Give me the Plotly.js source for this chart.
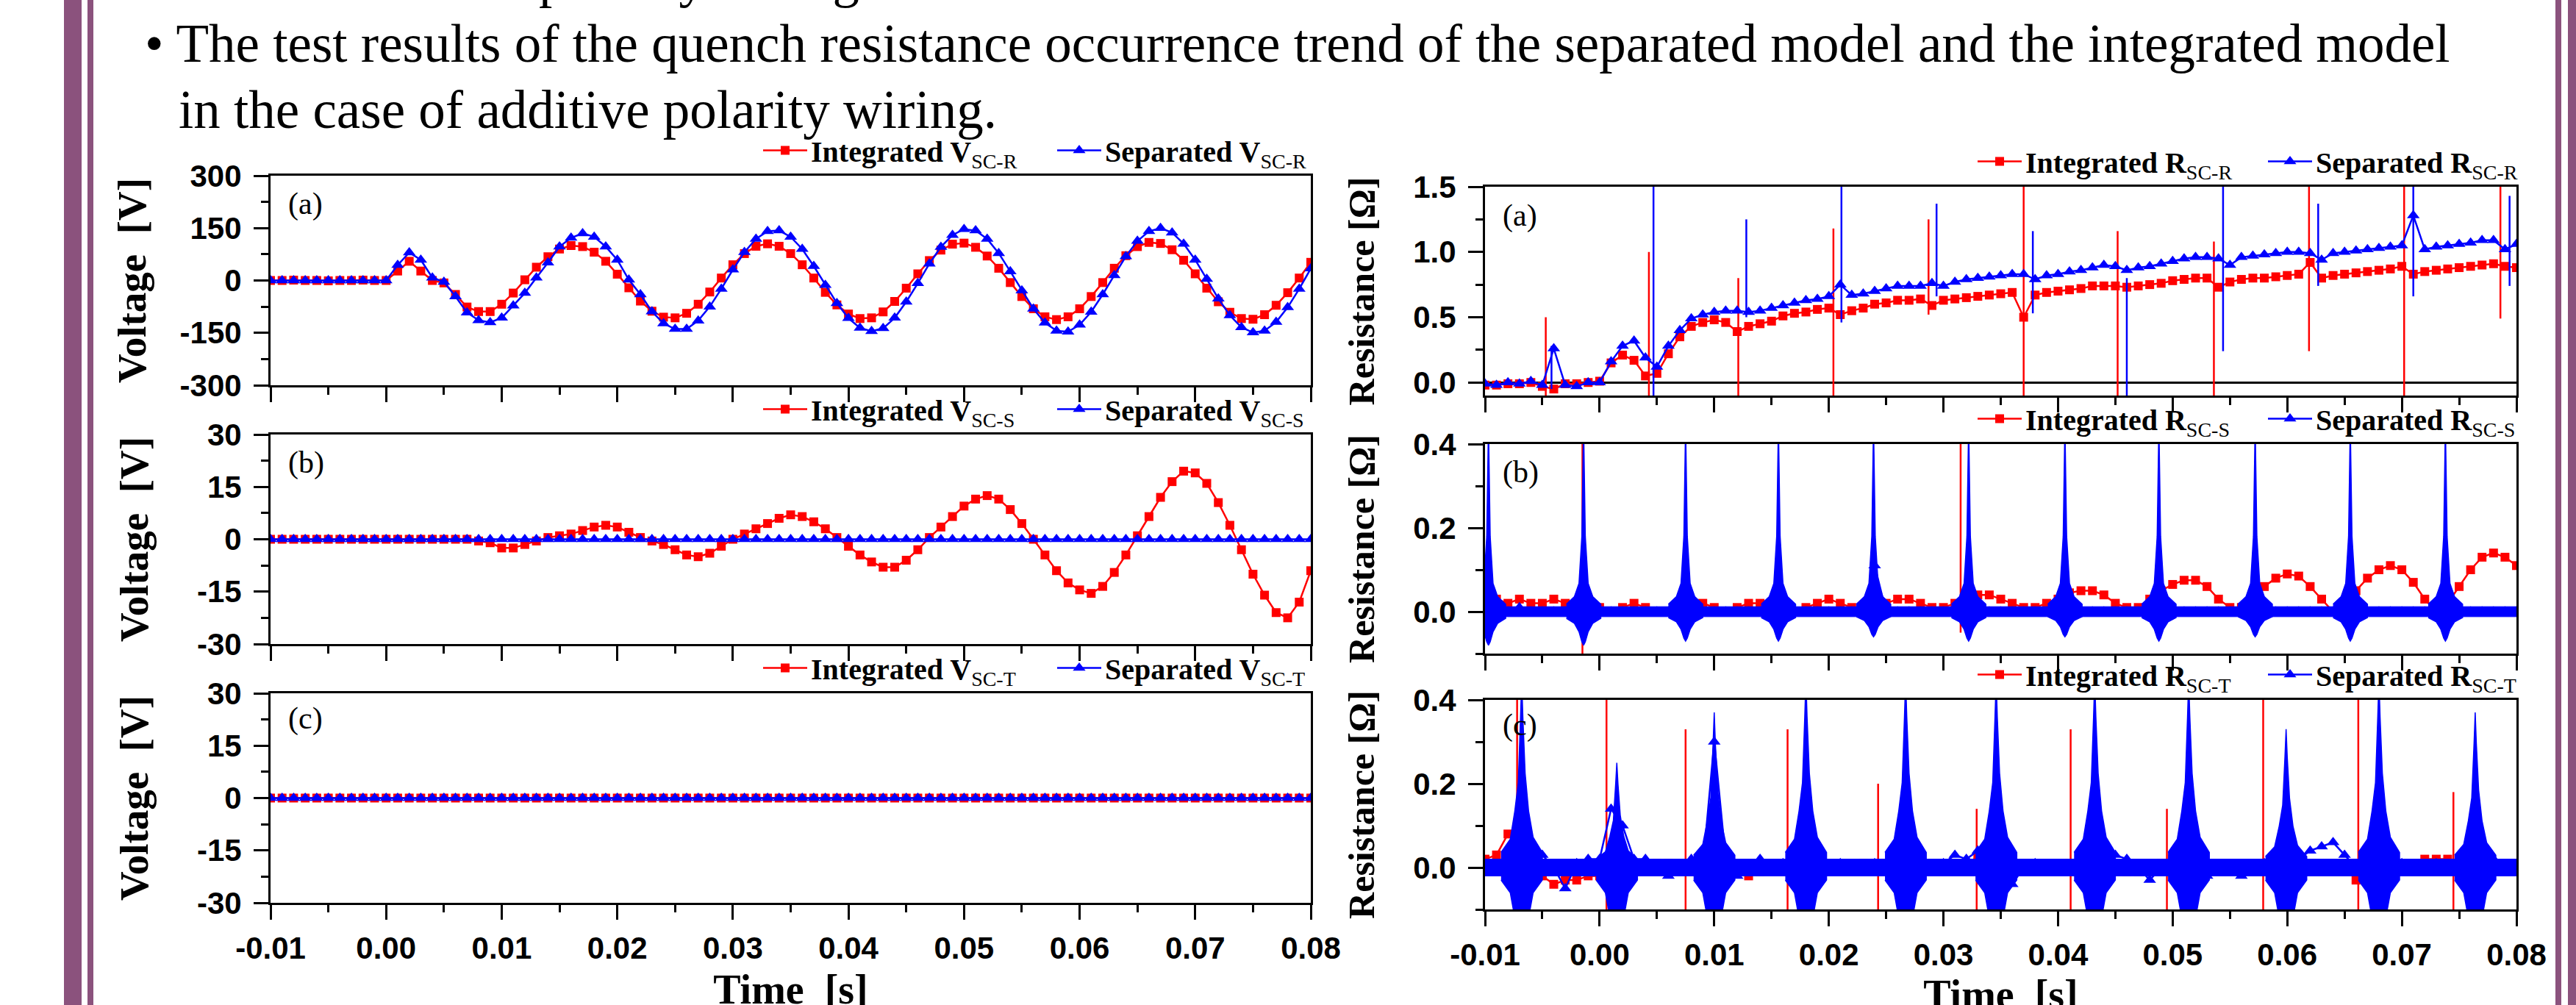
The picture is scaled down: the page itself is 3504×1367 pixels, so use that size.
<!DOCTYPE html>
<html><head><meta charset="utf-8">
<script src="https://cdn.plot.ly/plotly-3.0.1.min.js"></script>
<style>html,body{margin:0;padding:0;background:#fff;width:3504px;height:1367px;overflow:hidden;}#chart{width:3504px;height:1400px;}</style>
</head><body><div id="chart"></div>
<script>
// ---------- time grid (ms) for the sampled markers ----------
const tMs = [-10,-9,-8,-7,-6,-5,-4,-3,-2,-1,0,1,2,3,4,5,6,7,8,9,10,11,12,13,14,15,16,17,18,19,20,
21,22,23,24,25,26,27,28,29,30,31,32,33,34,35,36,37,38,39,40,41,42,43,44,45,46,47,48,49,50,
51,52,53,54,55,56,57,58,59,60,61,62,63,64,65,66,67,68,69,70,71,72,73,74,75,76,77,78,79,80];

// ---------- left column: voltages ----------
const vR_int = [0,0,1,0,0,-1,0,0,1,0, 0,
27,55,27,0,-7,-40,-76,-89,-89,-68,-36,2,
38,68,90,100,97,81,55,18,-21,-59,-88,-105,
-107,-94,-68,-33,7,45,77,98,105,98,77,45,
7,-34,-70,-96,-109,-107,-90,-60,-22,19,57,87,
104,107,95,70,35,-6,-46,-81,-104,-112,-104,-81,
-46,-6,35,71,97,109,106,88,58,19,-22,-61,
-91,-109,-111,-98,-71,-35,7,52];
const vR_sep = [0,0,0,0,0,0,0,0,0,0, 0,
44,80,59,8,-4,-46,-92,-114,-120,-107,-72,-36,
8,51,97,122,135,125,97,59,2,-40,-89,-123,
-139,-139,-115,-75,-24,31,81,119,141,143,125,90,
41,-13,-65,-108,-136,-145,-137,-107,-61,-8,48,96,
130,147,143,119,78,26,-29,-81,-121,-144,-147,-127,
-90,-40,15,69,113,141,150,137,105,59,4,-52,
-100,-134,-149,-144,-119,-77,-24,34];
const vS_int = [0,0,0,0,0,0,0,0,0,0,
0,0,0,0,0,0,0,0,-0.5,
-1,-2.5,-2.5,-1.5,-0.5,0.5,1,1.5,2.5,3.5,4,3.5,
2,0.5,-0.5,-1.5,-3,-4.5,-5,-4,-2,0,1.5,3,
4.5,6,7,6.5,5,3,0.5,-2,-4.5,-6.5,-8,-8,
-6,-3,0.5,3.5,6.5,9.5,11.5,12.5,11.5,8.5,4.5,0,
-4.5,-9,-12.5,-14.5,-15.5,-13.5,-9.5,-4.5,1,6.5,12,16.5,
19.5,19,16,10.5,4,-3,-10,-16,-21,-22.5,-18,-9];
const vS_sep = [0,0,0,0,0,0,0,0,0,0,0,0,0,0,0,0,0,0,0,0,0,0,0,0,0,0,0,0,0,0,0,0,0,0,0,0,0,0,0,0,0,0,0,0,0,0,
0,0,0,0,0,0,0,0,0,0,0,0,0,0,0,0,0,0,0,0,0,0,0,0,0,0,0,0,0,0,0,0,0,0,0,0,0,0,0,0,0,0,0,0,0];
const vT_int = [0,0,0,0,0,0,0,0,0,0,0,0,0,0,0,0,0,0,0,0,0,0,0,0,0,0,0,0,0,0,0,0,0,0,0,0,0,0,0,0,0,0,0,0,0,0,
0,0,0,0,0,0,0,0,0,0,0,0,0,0,0,0,0,0,0,0,0,0,0,0,0,0,0,0,0,0,0,0,0,0,0,0,0,0,0,0,0,0,0,0,0];
const vT_sep = [0,0,0,0,0,0,0,0,0,0,0,0,0,0,0,0,0,0,0,0,0,0,0,0,0,0,0,0,0,0,0,0,0,0,0,0,0,0,0,0,0,0,0,0,0,0,
0,0,0,0,0,0,0,0,0,0,0,0,0,0,0,0,0,0,0,0,0,0,0,0,0,0,0,0,0,0,0,0,0,0,0,0,0,0,0,0,0,0,0,0,0];

// ---------- right column: resistances ----------
const rR_int = [-0.02,-0.02,-0.01,-0.01,0.0,-0.03,-0.05,-0.01,-0.01,0.0, 0.01,
0.15,0.21,0.17,0.05,0.07,0.22,0.35,0.43,0.46,0.48,0.46,0.39,0.43,
0.45,0.47,0.51,0.53,0.54,0.56,0.57,0.52,0.55,0.57,0.6,0.61,0.63,
0.63,0.64,0.59,0.63,0.64,0.65,0.66,0.67,0.68,0.69,0.5,0.67,0.69,
0.7,0.71,0.72,0.74,0.74,0.74,0.73,0.74,0.75,0.76,0.78,0.79,0.8,
0.8,0.73,0.77,0.79,0.8,0.8,0.81,0.82,0.83,0.92,0.8,0.82,0.83,
0.84,0.85,0.86,0.87,0.89,0.83,0.85,0.86,0.87,0.88,0.89,0.9,0.91,
0.89,0.88];
const rR_sep = [-0.01,-0.02,0.0,-0.01,0.01,-0.02,0.26,-0.02,-0.03,0.0, 0.0,
0.16,0.28,0.32,0.19,0.12,0.28,0.4,0.49,0.52,0.54,0.55,0.55,0.54,
0.55,0.57,0.59,0.61,0.63,0.64,0.66,0.75,0.67,0.68,0.7,0.72,0.74,
0.74,0.74,0.76,0.74,0.77,0.79,0.8,0.81,0.82,0.83,0.83,0.79,0.82,
0.83,0.85,0.86,0.88,0.9,0.89,0.86,0.88,0.89,0.91,0.93,0.95,0.96,
0.96,0.95,0.9,0.96,0.97,0.98,0.99,1.0,1.0,0.99,0.94,0.99,1.0,
1.01,1.02,1.03,1.04,1.05,1.28,1.02,1.04,1.05,1.06,1.07,1.09,1.09,
1.02,1.06];
// spikes (time s, top, bottom)
const spkR_int_t  = [-0.0047,0.0043,0.0121,0.0204,0.0287,0.0370,0.0452,0.0536,0.0619,0.0702,0.0786];
const spkR_int_hi = [0.5,1.0,0.8,1.18,1.25,1.6,1.16,1.08,1.6,1.6,1.6];
const spkR_int_lo = [-0.12,-0.12,-0.12,-0.12,0.52,-0.12,-0.12,-0.12,0.24,-0.12,0.49];
const spkR_sep_t  = [-0.0042,0.0047,0.0128,0.0211,0.0294,0.0378,0.0460,0.0544,0.0627,0.0710,0.0794];
const spkR_sep_hi = [0.28,1.6,1.25,1.6,1.37,1.16,0.8,1.6,1.37,1.6,1.43];
const spkR_sep_lo = [-0.05,-0.12,0.5,0.46,0.66,0.53,-0.12,0.24,0.74,0.66,0.74];

const rS_int = [0.02,0.03,0.02,0.03,0.02,0.02,0.03,0.02,0.02,0.03,
0.01,0.00,0.01,0.02,0.01,0.00,0.00,0.01,0.02,0.02,0.01,
0.00,0.01,0.02,0.02,0.02,0.01,0.00,0.01,0.02,0.03,
0.02,0.01,0.00,0.01,0.02,0.03,0.03,0.02,0.01,0.01,
0.02,0.03,0.04,0.04,0.03,0.02,0.01,0.01,0.02,0.03,
0.045,0.05,0.05,0.04,0.02,0.01,0.01,0.03,0.05,0.065,
0.075,0.075,0.06,0.03,0.01,0.01,0.03,0.06,0.08,0.09,
0.085,0.06,0.03,0.00,0.02,0.05,0.08,0.10,0.11,0.10,
0.07,0.03,0.00,0.02,0.06,0.10,0.13,0.14,0.13,0.11];
const rS_sep = [0.07,0,0,0.01,0,0,0,0,0,0,
0,0,0,0,0,0,0,0,0,0,0,
0,0,0,0,0,0,0,0,0,0,
0,0,0,0.11,0,0,0,0,0,0,
0,0,0,0,0,0,0,0,0,0,0,0,0,0,0,0,0,0,0,0,0,0,0,0,0,0,0,0,0,0,0,0,0,0,0,0,0,0,0,0,0,0,0,0,0,0,0,0,0,0];
const spkS_int_t  = [-0.0015,0.0315];
const spkS_int_hi = [0.45,0.45];
const spkS_int_lo = [-0.12,-0.05];
const burstS_t  = [-0.0097,-0.0014,0.0075,0.0156,0.0239,0.0322,0.0406,0.0488,0.0572,0.0655,0.0738];
const burstS_hi = [0.45,0.45,0.45,0.45,0.45,0.45,0.45,0.45,0.45,0.45,0.45];
const burstS_lo = [-0.08,-0.08,-0.07,-0.07,-0.06,-0.07,-0.06,-0.07,-0.06,-0.07,-0.07];
const bandS = [-0.012,0.012];

const rT_int = [0.02,0.03,0.08,0.08,0.02,-0.02,-0.04,-0.03,-0.03,-0.02,
-0.02,-0.02,0.0,0.0,0.0,0.01,0.01,0.0,0.01,0.0,0.0,
-0.01,-0.01,-0.02,-0.01,0.0,0.0,0.0,0.0,0.0,0.0,
0.0,0.0,0.01,0.01,0.01,0.0,0.02,0.0,0.0,0.0,
0.0,0.0,0.03,0.02,0.01,0.0,0.0,0.0,0.0,0.0,
0.01,0.01,0.0,0.0,0.0,-0.01,-0.01,-0.01,0.01,0.02,
0.01,0.0,0.0,0.0,0.0,-0.01,0.0,0.0,0.0,0.0,
0.0,0.0,0.0,0.0,0.01,-0.03,-0.03,0.0,0.0,0.0,
0.0,0.02,0.02,0.02,0.01,0.0,0.0,0.0,0.0,0.0];
const rT_sep = [0.0,0.0,0.02,0.0,0.06,0.03,0.0,-0.05,0.01,0.02,
0.02,0.14,0.1,0.02,0.02,0.0,-0.02,0.0,0.02,0.0,0.3,
0.02,-0.02,0.0,0.02,0.0,0.01,0.02,0.0,0.0,0.0,
0.01,0.0,0.0,0.01,0.0,-0.02,-0.05,0.0,0.0,0.01,
0.03,0.02,0.04,0.0,-0.03,-0.04,0.0,0.01,0.0,0.0,
0.0,0.02,0.0,0.01,0.03,0.02,0.0,-0.03,0.0,0.02,
0.0,0.0,-0.02,0.0,0.0,-0.02,0.0,0.01,0.0,0.0,
0.02,0.04,0.05,0.06,0.03,0.0,0.0,-0.01,0.0,0.01,
0.0,0.0,0.01,0.0,0.01,0.0,-0.01,0.02,0.0,0.0];
const spkT_int_t  = [-0.0072,0.0006,0.0075,0.0164,0.0243,0.0329,0.0411,0.0495,0.0579,0.0662,0.0745];
const spkT_int_hi = [0.45,0.45,0.33,0.33,0.2,0.14,0.33,0.14,0.45,0.45,0.18];
const spkT_int_lo = [-0.12,-0.12,-0.12,-0.12,-0.12,-0.12,-0.12,-0.12,-0.12,-0.12,-0.12];
const burstT_t  = [-0.0068,0.0015,0.0100,0.0180,0.0267,0.0346,0.0432,0.0514,0.0599,0.0680,0.0764];
const burstT_hi = [0.45,0.25,0.37,0.45,0.45,0.45,0.45,0.45,0.33,0.45,0.37];
const burstT_lo = [-0.12,-0.12,-0.12,-0.12,-0.12,-0.12,-0.12,-0.12,-0.12,-0.12,-0.12];
const bandT = [-0.02,0.02];

// burst envelope profiles (offset ms, fraction of burst extreme)
const profB_upOff = [-1.5,-0.8,-0.4,-0.15,0,0.15,0.4,0.8,1.5];
const profB_upFr  = [0.04,0.08,0.15,0.4,1,0.4,0.15,0.08,0.04];
const profB_loOff = [1.5,0.8,0.4,0.15,0,-0.15,-0.4,-0.8,-1.5];
const profB_loFr  = [0.2,0.35,0.6,0.9,1,0.9,0.6,0.35,0.2];
const profC_upOff = [-1.8,-1.0,-0.6,-0.3,-0.1,0,0.1,0.3,0.6,1.0,1.8];
const profC_upFr  = [0.08,0.15,0.3,0.45,0.8,1,0.8,0.5,0.3,0.16,0.08];
const profC_loOff = [1.8,1.0,0.6,0.3,0,-0.3,-0.6,-1.0,-1.8];
const profC_loFr  = [0.25,0.5,1,1,1,1,1,0.5,0.25];

// ---------- tick labels ----------
const xTickVals = [-0.01,0,0.01,0.02,0.03,0.04,0.05,0.06,0.07,0.08];
const xTickText = ["-0.01","0.00","0.01","0.02","0.03","0.04","0.05","0.06","0.07","0.08"];
const xMinor = [-0.005,0.005,0.015,0.025,0.035,0.045,0.055,0.065,0.075];
const yA_vals = [-300,-150,0,150,300], yA_text = ["-300","-150","0","150","300"], yA_minor=[-225,-75,75,225];
const yB_vals = [-30,-15,0,15,30], yB_text = ["-30","-15","0","15","30"], yB_minor=[-22.5,-7.5,7.5,22.5];
const rA_vals = [0,0.5,1.0,1.5], rA_text = ["0.0","0.5","1.0","1.5"], rA_minor=[0.25,0.75,1.25];
const rB_vals = [0,0.2,0.4], rB_text = ["0.0","0.2","0.4"], rB_minor=[-0.1,0.1,0.3];

// ---------- geometry helpers ----------
// figure is drawn slightly taller than the window so the bottom axis titles can sit at the cut edge
const W = 3504, H = 1400;
const px = v => v / W, py = v => 1 - v / H;
const t = tMs.map(v => v / 1000);
const RED = '#ff0000', BLUE = '#0000ff';

function mk(xa, ya, y, color, sym, name, leg) {
  return {x: t, y: y, xaxis: xa, yaxis: ya, type: 'scatter', mode: 'lines+markers', name: name,
    legend: leg, legendrank: name.startsWith('Integrated') ? 1 : 2, line: {color: color, width: 2.5},
    marker: {symbol: sym, color: color, size: sym === 'square' ? 12 : 15}};
}
function spikes(xa, ya, ts, hi, lo, color) {
  const xs = [], ys = [];
  ts.forEach((v, i) => { xs.push(v, v, null); ys.push(hi[i], lo[i], null); });
  return {x: xs, y: ys, xaxis: xa, yaxis: ya, type: 'scatter', mode: 'lines', showlegend: false,
    line: {color: color, width: 2.5}, hoverinfo: 'skip'};
}
function bursts(xa, ya, ts, hi, lo, upOff, upFr, loOff, loFr, color) {
  const xs = [], ys = [];
  ts.forEach((c, i) => {
    upOff.forEach((o, k) => { xs.push(c + o / 1000); ys.push(hi[i] * upFr[k]); });
    loOff.forEach((o, k) => { xs.push(c + o / 1000); ys.push(lo[i] * loFr[k]); });
    xs.push(null); ys.push(null);
  });
  return {x: xs, y: ys, xaxis: xa, yaxis: ya, type: 'scatter', mode: 'lines', fill: 'toself',
    fillcolor: color, showlegend: false, line: {color: color, width: 1.5}, hoverinfo: 'skip'};
}
function band(xa, ya, b, color) {
  return {x: [-0.01, 0.08, 0.08, -0.01], y: [b[1], b[1], b[0], b[0]], xaxis: xa, yaxis: ya,
    type: 'scatter', mode: 'lines', fill: 'toself', fillcolor: color, showlegend: false,
    line: {color: color, width: 1}, hoverinfo: 'skip'};
}
const sub = s => '<sub><span style="font-weight:normal">' + s + '</span></sub>';

const traces = [
  mk('x', 'y', vR_int, RED, 'square', 'Integrated V' + sub('SC-R'), 'legend'),
  mk('x', 'y', vR_sep, BLUE, 'triangle-up', 'Separated V' + sub('SC-R'), 'legend'),
  mk('x2', 'y2', vS_int, RED, 'square', 'Integrated V' + sub('SC-S'), 'legend2'),
  mk('x2', 'y2', vS_sep, BLUE, 'triangle-up', 'Separated V' + sub('SC-S'), 'legend2'),
  mk('x3', 'y3', vT_int, RED, 'square', 'Integrated V' + sub('SC-T'), 'legend3'),
  mk('x3', 'y3', vT_sep, BLUE, 'triangle-up', 'Separated V' + sub('SC-T'), 'legend3'),

  mk('x4', 'y4', rR_int, RED, 'square', 'Integrated R' + sub('SC-R'), 'legend4'),
  spikes('x4', 'y4', spkR_int_t, spkR_int_hi, spkR_int_lo, RED),
  mk('x4', 'y4', rR_sep, BLUE, 'triangle-up', 'Separated R' + sub('SC-R'), 'legend4'),
  spikes('x4', 'y4', spkR_sep_t, spkR_sep_hi, spkR_sep_lo, BLUE),

  mk('x5', 'y5', rS_int, RED, 'square', 'Integrated R' + sub('SC-S'), 'legend5'),
  spikes('x5', 'y5', spkS_int_t, spkS_int_hi, spkS_int_lo, RED),
  band('x5', 'y5', bandS, BLUE),
  bursts('x5', 'y5', burstS_t, burstS_hi, burstS_lo, profB_upOff, profB_upFr, profB_loOff, profB_loFr, BLUE),
  mk('x5', 'y5', rS_sep, BLUE, 'triangle-up', 'Separated R' + sub('SC-S'), 'legend5'),

  mk('x6', 'y6', rT_int, RED, 'square', 'Integrated R' + sub('SC-T'), 'legend6'),
  spikes('x6', 'y6', spkT_int_t, spkT_int_hi, spkT_int_lo, RED),
  band('x6', 'y6', bandT, BLUE),
  bursts('x6', 'y6', burstT_t, burstT_hi, burstT_lo, profC_upOff, profC_upFr, profC_loOff, profC_loFr, BLUE),
  mk('x6', 'y6', rT_sep, BLUE, 'triangle-up', 'Separated R' + sub('SC-T'), 'legend6')
];

const tickFont = {family: 'Liberation Sans', size: 42, weight: 'bold', color: '#000'};
const axBase = {showline: true, linewidth: 3, linecolor: '#000', mirror: true, showgrid: false, zeroline: false,
  ticks: 'outside', ticklen: 20, tickwidth: 3, tickcolor: '#000', tickfont: tickFont, fixedrange: true};
function xax(dom, anchor, labels, title, tStandoff) {
  const a = Object.assign({}, axBase, {domain: dom, anchor: anchor, range: [-0.01, 0.08],
    tickmode: 'array', tickvals: xTickVals, ticktext: xTickText, showticklabels: labels, ticklabelstandoff: 3,
    minor: {tickmode: 'array', tickvals: xMinor, ticks: 'outside', ticklen: 10, tickwidth: 3, tickcolor: '#000'}});
  if (title) a.title = {text: title, font: {family: 'Liberation Serif', size: 56, weight: 'bold', color: '#000'}, standoff: tStandoff};
  return a;
}
function yax(dom, anchor, range, vals, text, minor, title, tsize, standoff, extra) {
  return Object.assign({}, axBase, {domain: dom, anchor: anchor, range: range, tickmode: 'array',
    tickvals: vals, ticktext: text, ticklabelstandoff: 8,
    minor: {tickmode: 'array', tickvals: minor, ticks: 'outside', ticklen: 10, tickwidth: 3, tickcolor: '#000'},
    title: {text: title, font: {family: 'Liberation Serif', size: tsize, weight: 'bold', color: '#000'}, standoff: standoff}}, extra || {});
}
const LX = [px(368), px(1783)], RX = [px(2020), px(3423)];
const legFont = {family: 'Liberation Serif', size: 40, weight: 'bold', color: '#000'};
function leg(xl, ytop, ew) {
  return {x: px(xl), xanchor: 'left', y: py(ytop), yanchor: 'bottom', orientation: 'h',
    bgcolor: 'rgba(0,0,0,0)', borderwidth: 0, font: legFont, itemwidth: 60, tracegroupgap: 0,
    entrywidth: ew, entrywidthmode: 'pixels'};
}
const vTitle = 'Voltage\u00a0\u00a0[V]', rTitle = 'Resistance\u00a0[\u03a9]';
const layout = {
  width: W, height: H, margin: {l: 0, r: 0, t: 0, b: 0}, paper_bgcolor: '#fff', plot_bgcolor: '#fff',
  showlegend: true, hovermode: false,
  xaxis:  xax(LX, 'y', false),
  yaxis:  yax([py(524), py(239)], 'x', [-300, 300], yA_vals, yA_text, yA_minor, vTitle, 55, 29),
  xaxis2: xax(LX, 'y2', false),
  yaxis2: yax([py(876), py(591)], 'x2', [-30, 30], yB_vals, yB_text, yB_minor, vTitle, 55, 49),
  xaxis3: xax(LX, 'y3', true, 'Time\u00a0\u00a0[s]', 14),
  yaxis3: yax([py(1228), py(943)], 'x3', [-30, 30], yB_vals, yB_text, yB_minor, vTitle, 55, 49),
  xaxis4: xax(RX, 'y4', false),
  yaxis4: yax([py(538), py(254)], 'x4', [-0.1, 1.5], rA_vals, rA_text, rA_minor, rTitle, 50, 37,
    {zeroline: true, zerolinecolor: '#000', zerolinewidth: 3}),
  xaxis5: xax(RX, 'y5', false),
  yaxis5: yax([py(889), py(604)], 'x5', [-0.1, 0.4], rB_vals, rB_text, rB_minor, rTitle, 50, 37),
  xaxis6: xax(RX, 'y6', true, 'Time\u00a0\u00a0[s]', 7),
  yaxis6: yax([py(1237), py(952)], 'x6', [-0.1, 0.4], rB_vals, rB_text, rB_minor, rTitle, 50, 37),
  legend: leg(1033, 237, 325), legend2: leg(1033, 589, 325), legend3: leg(1033, 941, 325),
  legend4: leg(2685, 252, 320), legend5: leg(2685, 602, 320), legend6: leg(2685, 950, 320),
  shapes: [
    {type: 'rect', xref: 'paper', yref: 'paper', x0: px(87), x1: px(111), y0: -0.02, y1: 1.02, fillcolor: '#8b527d', line: {width: 0}},
    {type: 'rect', xref: 'paper', yref: 'paper', x0: px(119), x1: px(127), y0: -0.02, y1: 1.02, fillcolor: '#8b527d', line: {width: 0}},
    {type: 'rect', xref: 'paper', yref: 'paper', x0: px(3476), x1: px(3484), y0: -0.02, y1: 1.02, fillcolor: '#8b527d', line: {width: 0}},
    {type: 'rect', xref: 'paper', yref: 'paper', x0: px(3493), x1: px(3504), y0: -0.02, y1: 1.02, fillcolor: '#8b527d', line: {width: 0}}
  ],
  annotations: [
    {xref: 'paper', yref: 'paper', x: px(731), y: py(-30), xanchor: 'left', yanchor: 'middle', showarrow: false,
      text: 'polarity wiring.', font: {family: 'Liberation Serif', size: 73, color: '#000'}},
    {xref: 'paper', yref: 'paper', x: px(195), y: py(60), xanchor: 'left', yanchor: 'middle', showarrow: false,
      text: '\u2022 The test results of the quench resistance occurrence trend of the separated model and the integrated model',
      font: {family: 'Liberation Serif', size: 73, color: '#000'}},
    {xref: 'paper', yref: 'paper', x: px(241), y: py(150), xanchor: 'left', yanchor: 'middle', showarrow: false,
      text: 'in the case of additive polarity wiring.', font: {family: 'Liberation Serif', size: 73, color: '#000'}},
    {xref: 'paper', yref: 'paper', x: px(390), y: py(277), xanchor: 'left', yanchor: 'middle', showarrow: false, text: '(a)', font: {family: 'Liberation Serif', size: 42, color: '#000'}},
    {xref: 'paper', yref: 'paper', x: px(390), y: py(629), xanchor: 'left', yanchor: 'middle', showarrow: false, text: '(b)', font: {family: 'Liberation Serif', size: 42, color: '#000'}},
    {xref: 'paper', yref: 'paper', x: px(390), y: py(977), xanchor: 'left', yanchor: 'middle', showarrow: false, text: '(c)', font: {family: 'Liberation Serif', size: 42, color: '#000'}},
    {xref: 'paper', yref: 'paper', x: px(2042), y: py(294), xanchor: 'left', yanchor: 'middle', showarrow: false, text: '(a)', font: {family: 'Liberation Serif', size: 42, color: '#000'}},
    {xref: 'paper', yref: 'paper', x: px(2042), y: py(642), xanchor: 'left', yanchor: 'middle', showarrow: false, text: '(b)', font: {family: 'Liberation Serif', size: 42, color: '#000'}},
    {xref: 'paper', yref: 'paper', x: px(2042), y: py(986), xanchor: 'left', yanchor: 'middle', showarrow: false, text: '(c)', font: {family: 'Liberation Serif', size: 42, color: '#000'}}
  ]
};
Plotly.newPlot('chart', traces, layout, {staticPlot: true, displayModeBar: false});
</script></body></html>
